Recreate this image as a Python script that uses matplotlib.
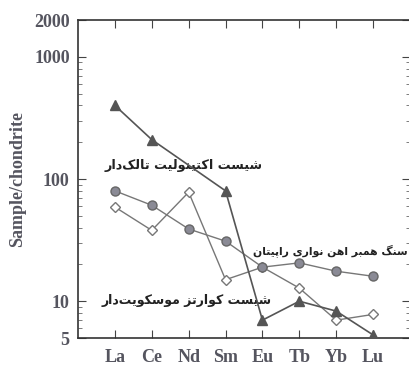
import numpy as np
import matplotlib
matplotlib.use("Agg")
import matplotlib.pyplot as plt
from matplotlib.ticker import FixedLocator, NullFormatter, LogLocator

# REE values normalised to chondrite
elements = ["La", "Ce", "Nd", "Sm", "Eu", "Tb", "Yb", "Lu"]
talc_actinolite = [400, 210, np.nan, 80, 7.0, 10, 8.3, 5.3]
rapitan_host = [80, 61, 39, 31, 19, 20.6, 17.6, 16]
muscovite_quartz = [59, 38, 78, 15, 19, 12.8, 7.0, 7.8]

label_talc = "شیست اکتینولیت تالک‌دار"
label_rapitan = "سنگ همبر اهن نواری راپیتان"
label_musc = "شیست کوارتز موسکویت‌دار"

# minimal Persian shaping: pick presentation forms and reverse to visual order
FORMS = {
    "ا": ("\uFE8D", "\uFE8E", None, None),
    "د": ("\uFEA9", "\uFEAA", None, None),
    "ر": ("\uFEAD", "\uFEAE", None, None),
    "ز": ("\uFEAF", "\uFEB0", None, None),
    "و": ("\uFEED", "\uFEEE", None, None),
    "ب": ("\uFE8F", "\uFE90", "\uFE91", "\uFE92"),
    "پ": ("\uFB56", "\uFB57", "\uFB58", "\uFB59"),
    "ت": ("\uFE95", "\uFE96", "\uFE97", "\uFE98"),
    "س": ("\uFEB1", "\uFEB2", "\uFEB3", "\uFEB4"),
    "ش": ("\uFEB5", "\uFEB6", "\uFEB7", "\uFEB8"),
    "ک": ("\uFB8E", "\uFB8F", "\uFB90", "\uFB91"),
    "گ": ("\uFB92", "\uFB93", "\uFB94", "\uFB95"),
    "ل": ("\uFEDD", "\uFEDE", "\uFEDF", "\uFEE0"),
    "م": ("\uFEE1", "\uFEE2", "\uFEE3", "\uFEE4"),
    "ن": ("\uFEE5", "\uFEE6", "\uFEE7", "\uFEE8"),
    "ه": ("\uFEE9", "\uFEEA", "\uFEEB", "\uFEEC"),
    "ی": ("\uFBFC", "\uFBFD", "\uFBFE", "\uFBFF"),
}


def dual(c):
    return c in FORMS and FORMS[c][2] is not None


def shape(text):
    out = []
    for i, c in enumerate(text):
        if c not in FORMS:
            if c != "\u200c":
                out.append(c)
            continue
        prev = text[i - 1] if i > 0 else ""
        nxt = text[i + 1] if i + 1 < len(text) else ""
        jp = dual(prev)
        jn = dual(c) and nxt in FORMS
        iso, fin, ini, med = FORMS[c]
        if jp and jn:
            out.append(med)
        elif jp:
            out.append(fin)
        elif jn:
            out.append(ini)
        else:
            out.append(iso)
    return "".join(out[::-1])


def plot_series(ax, values, **kw):
    x = np.arange(1, len(elements) + 1)
    v = np.array(values, dtype=float)
    ok = ~np.isnan(v)
    ax.plot(x[ok], v[ok], **kw)


tick_color = "#55555f"
serif = "Liberation Serif"

fig = plt.figure(figsize=(4.09, 3.67), dpi=100)
ax = fig.add_axes([0.1907, 0.079, 0.8117, 0.8665])
ax.set_yscale("log")
ax.set_xlim(0, 9)
ax.set_ylim(5, 2000)

plot_series(ax, muscovite_quartz, color="#777777", lw=1.0, marker="D", ms=5,
            mfc="white", mec="#777777", mew=1.0, zorder=2)
plot_series(ax, rapitan_host, color="#777777", lw=1.0, marker="o", ms=6.5,
            mfc="#8a8a95", mec="#666666", mew=1.0, zorder=3)
plot_series(ax, talc_actinolite, color="#555555", lw=1.2, marker="^", ms=7.5,
            mfc="#555555", mec="#555555", zorder=4)

txt_kw = dict(ha="center", va="center", fontsize=9.2, color="#222222",
              family="DejaVu Sans", fontweight="bold")
ax.text(2.87, 130, shape(label_talc), **txt_kw)
ax.text(6.84, 26, shape(label_rapitan), **{**txt_kw, "fontsize": 7.8})
ax.text(2.95, 10.2, shape(label_musc), **{**txt_kw, "fontsize": 9.0})

ax.set_xticks(np.arange(1, len(elements) + 1))
ax.set_xticklabels(elements, fontsize=13, fontweight="bold", family=serif,
                   color=tick_color)
ax.yaxis.set_major_locator(FixedLocator([5, 10, 100, 1000, 2000]))
ax.set_yticklabels(["5", "10", "100", "1000", "2000"], fontsize=13,
                   fontweight="bold", family=serif, color=tick_color)
ax.yaxis.set_minor_locator(LogLocator(base=10, subs=np.arange(2, 10)))
ax.yaxis.set_minor_formatter(NullFormatter())
ax.tick_params(axis="both", which="major", direction="in", length=6,
               width=0.8, color="#444444", top=True, right=True)
ax.tick_params(axis="y", which="minor", direction="in", length=3,
               width=0.6, color="#666666", right=True)
ax.tick_params(axis="x", pad=8)
ax.tick_params(axis="y", pad=6)
for s in ax.spines.values():
    s.set_linewidth(1.2)
    s.set_color("#333333")

ax.set_ylabel("Sample/chondrite", fontsize=13, fontweight="bold", family=serif,
              color=tick_color, labelpad=6)

fig.savefig("out.png", dpi=100)
